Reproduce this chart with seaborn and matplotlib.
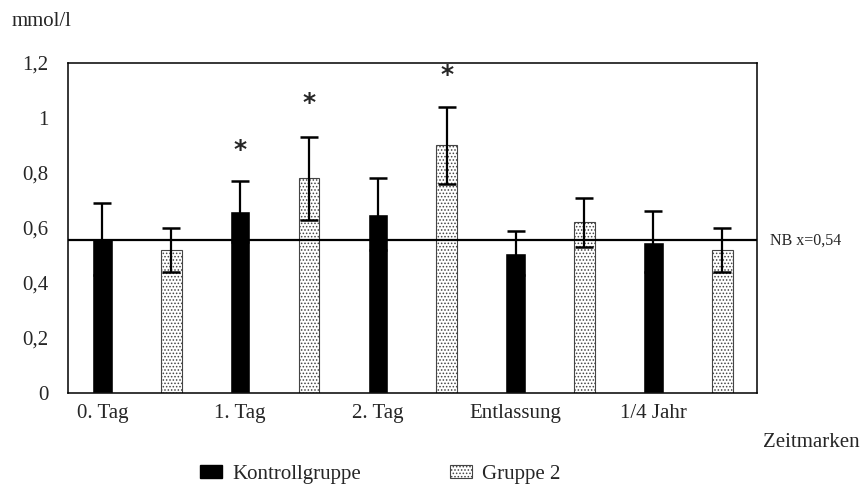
import pandas as pd
import matplotlib
matplotlib.use('Agg')
import matplotlib.pyplot as plt
import seaborn as sns
from matplotlib.patches import Patch

# Data
zeitmarken = ['0. Tag', '1. Tag', '2. Tag', 'Entlassung', '1/4 Jahr']
kontroll_mean = [0.56, 0.66, 0.65, 0.51, 0.55]
kontroll_err = [0.13, 0.11, 0.13, 0.08, 0.11]
gruppe2_mean = [0.52, 0.78, 0.90, 0.62, 0.52]
gruppe2_err = [0.08, 0.15, 0.14, 0.09, 0.08]
ref_value = 0.555
ref_label = 'NB x=0,54'
ytick_values = [0, 0.2, 0.4, 0.6, 0.8, 1.0, 1.2]
ytick_labels = ['0', '0,2', '0,4', '0,6', '0,8', '1', '1,2']
# significance markers: (slot index, y)
stars_slot = [2, 3, 5]
stars_y = [0.885, 1.055, 1.155]

sns.set_style('white')
plt.rcParams['font.family'] = ['Liberation Serif', 'DejaVu Serif']
plt.rcParams['hatch.linewidth'] = 0.7

# one slot per bar: control bar under each label, group 2 right beside it
slots, values, errs, groups = [], [], [], []
for i, name in enumerate(zeitmarken):
    slots += [f'{name} K', f'{name} G2']
    values += [kontroll_mean[i], gruppe2_mean[i]]
    errs += [kontroll_err[i], gruppe2_err[i]]
    groups += ['Kontrollgruppe', 'Gruppe 2']
df = pd.DataFrame({'slot': slots, 'value': values, 'err': errs, 'group': groups})

fig = plt.figure(figsize=(8.64, 4.86), dpi=100)
ax = fig.add_axes([0.0787, 0.1914, 0.797, 0.679])

sns.barplot(data=df, x='slot', y='value', hue='group', order=slots,
            hue_order=['Kontrollgruppe', 'Gruppe 2'], dodge=False,
            palette={'Kontrollgruppe': 'black', 'Gruppe 2': 'white'},
            width=0.30, legend=False, ax=ax)

for bar in ax.containers[1]:
    bar.set_hatch('.....')
    bar.set_edgecolor('#444444')
    bar.set_linewidth(0.8)

ax.errorbar(range(len(slots)), df['value'], yerr=df['err'], fmt='none',
            ecolor='black', elinewidth=1.6, capsize=6.8, capthick=1.8, zorder=5)

ax.axhline(ref_value, color='black', linewidth=1.6, zorder=6)
ax.text(1.02, ref_value, ref_label, transform=ax.get_yaxis_transform(),
        fontsize=11.5, va='center', ha='left')

for s, y in zip(stars_slot, stars_y):
    ax.text(s, y, '*', fontsize=18, fontweight='bold', ha='center', va='center',
            family=['DejaVu Sans'])

ax.set_xlim(-0.5, len(slots) - 0.5)
ax.set_ylim(0, 1.2)
ax.set_xticks(range(0, len(slots), 2))
ax.set_xticklabels(zeitmarken, fontsize=15)
ax.set_yticks(ytick_values)
ax.set_yticklabels(ytick_labels, fontsize=15)
ax.tick_params(axis='both', length=0)
ax.tick_params(axis='y', pad=14)
ax.tick_params(axis='x', pad=8)
ax.set_xlabel('')
ax.set_ylabel('')
for sp in ax.spines.values():
    sp.set_visible(True)
    sp.set_color('black')
    sp.set_linewidth(1.1)

fig.text(12 / 864, 1 - 22 / 486, 'mmol/l', fontsize=15, va='center', ha='left')
fig.text(860 / 864, 1 - 442 / 486, 'Zeitmarken', fontsize=15, va='center', ha='right')

handles = [Patch(facecolor='black', edgecolor='black'),
           Patch(facecolor='white', edgecolor='#444444', hatch='.....', linewidth=0.8)]
fig.legend(handles, ['Kontrollgruppe', 'Gruppe 2'], loc='center left',
           bbox_to_anchor=(190 / 864, 1 - 474 / 486), ncol=2, frameon=False,
           fontsize=15, borderpad=0, handlelength=1.05, handleheight=0.6,
           handletextpad=0.5, columnspacing=4.25)

fig.savefig('out.png', dpi=100)
